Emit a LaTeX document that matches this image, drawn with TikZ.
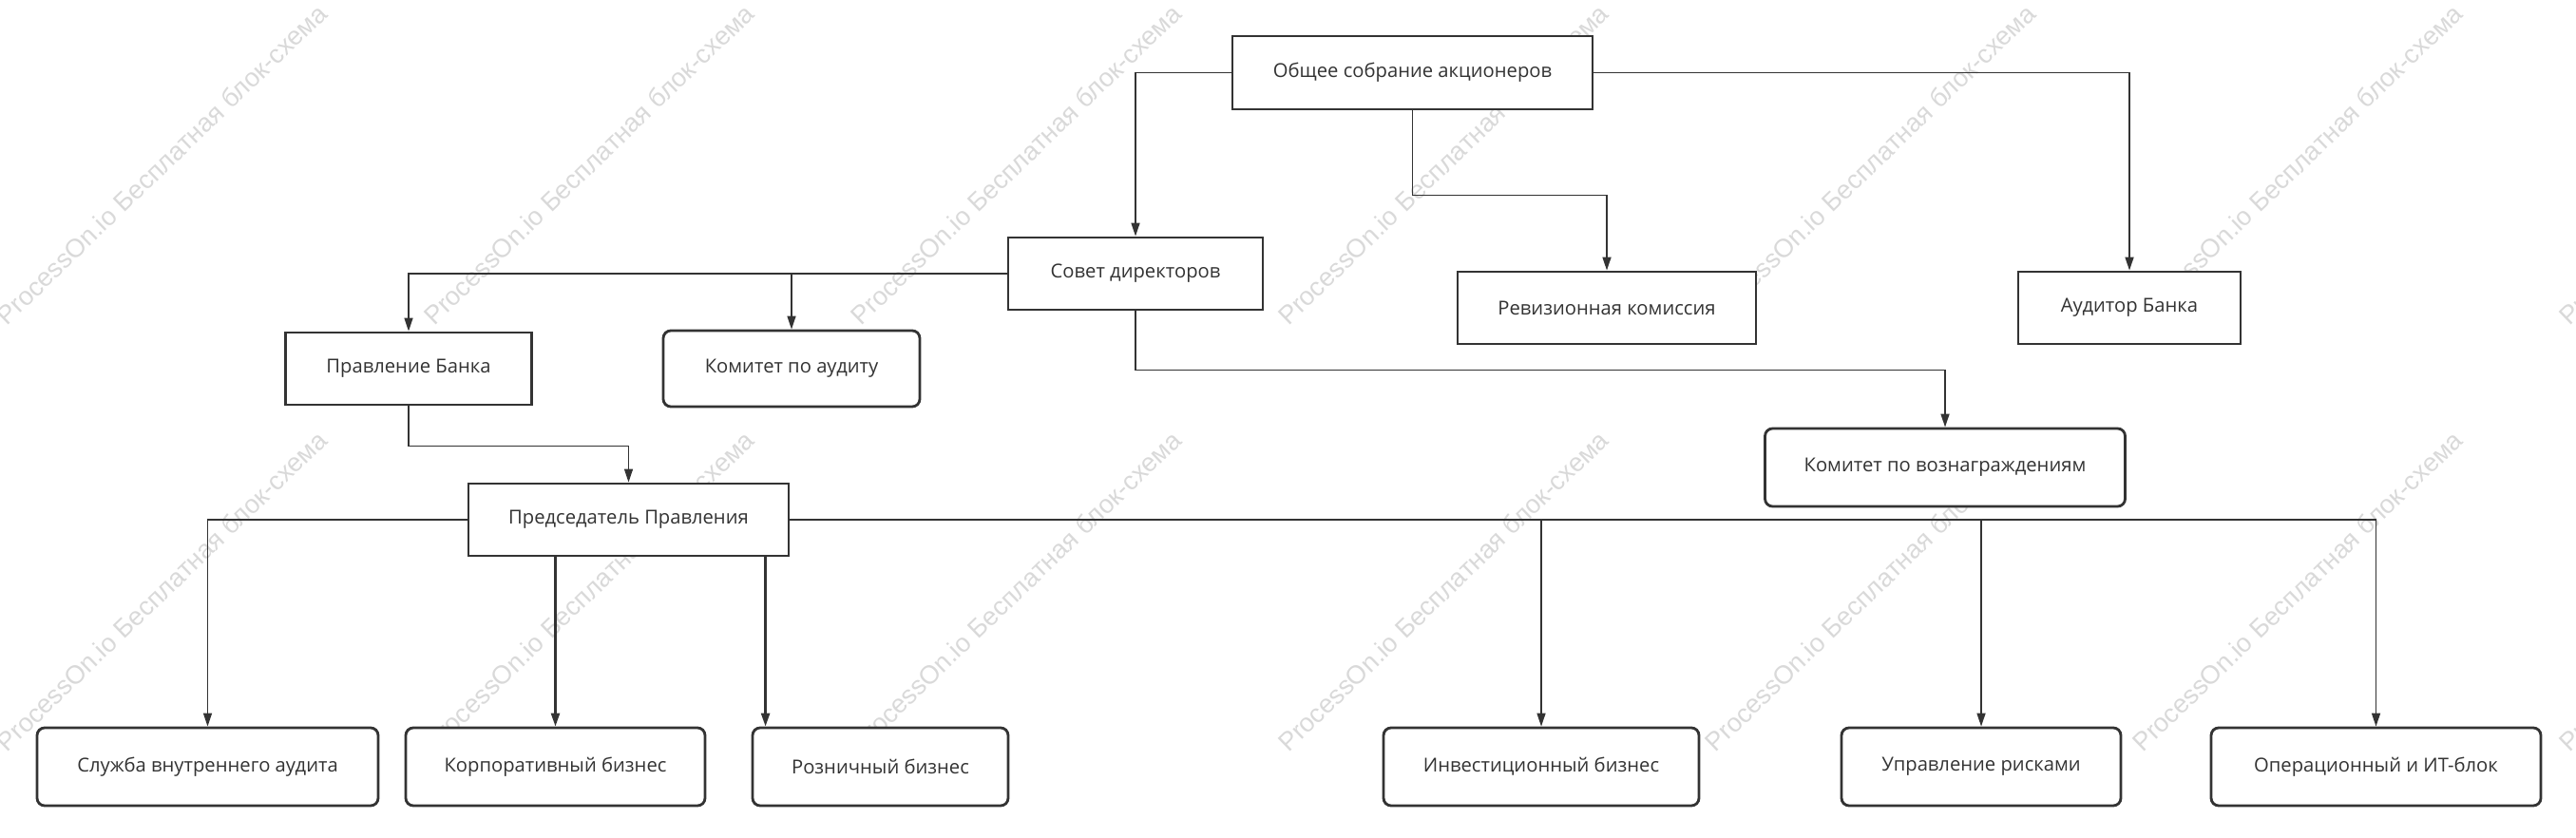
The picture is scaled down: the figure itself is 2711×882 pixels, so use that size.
\documentclass[tikz,border=0pt]{standalone}
\usepackage{fontspec}
\setmainfont{Open Sans}
\newfontfamily\wmfont{Liberation Sans}
\usepackage{xcolor}
\usepackage{tikz}
\usetikzlibrary{arrows.meta}
\definecolor{linegray}{HTML}{333333}

\begin{document}
\begin{tikzpicture}[x=0.2mm, y=-0.2mm, >={Triangle[length=2.8mm, width=1.8mm]},
    box/.style={draw=linegray, fill=white, line width=1.6pt, rectangle, minimum height=15.2mm, text centered, text=linegray, font=\fontsize{11.5}{14}\selectfont},
    rbox/.style={box, rounded corners=1.6mm, minimum height=16.4mm},
    wmark/.style={rotate=44, text=black!15, font=\wmfont\fontsize{15.5}{18}\selectfont},
    conn/.style={->, draw=linegray, line width=0.9pt}]

    \useasboundingbox (0,0) rectangle (2711,882);

    % Watermark
    \foreach \i in {0,...,6}
        \foreach \j in {0,1}
            \node (wm\i\j) [wmark] at ({170+449.5*\i}, {173+449*\j}) {ProcessOn.io Бесплатная блок-схема};

    % Define nodes
    \node (gsm) [box, minimum width=75.8mm, minimum height=15.4mm] at (1486.5, 76.5) {Общее собрание акционеров};
    \node (sovet) [box, minimum width=53.6mm] at (1195, 288) {Совет директоров};
    \node (rev) [box, minimum width=62.8mm] at (1691, 324) {Ревизионная комиссия};
    \node (aud) [box, minimum width=46.8mm] at (2241, 324) {Аудитор Банка};
    \node (pravl) [box, minimum width=51.8mm] at (430, 388) {Правление Банка};
    \node (komaud) [rbox, minimum width=54mm, minimum height=16mm] at (833, 388) {Комитет по аудиту};
    \node (komvoz) [rbox, minimum width=75.8mm] at (2047, 492) {Комитет по вознаграждениям};
    \node (pred) [box, minimum width=67.4mm] at (661.5, 547) {Председатель Правления};

    \node (sluzh) [rbox, minimum width=71.8mm] at (218.5, 807) {Служба внутреннего аудита};
    \node (korp) [rbox, minimum width=63mm] at (584.5, 807) {Корпоративный бизнес};
    \node (rozn) [rbox, minimum width=53.8mm] at (926.5, 807) {Розничный бизнес};
    \node (invest) [rbox, minimum width=66.4mm] at (1622, 807) {Инвестиционный бизнес};
    \node (risk) [rbox, minimum width=58.8mm] at (2085, 807) {Управление рисками};
    \node (oper) [rbox, minimum width=69.4mm] at (2500.5, 807) {Операционный и ИТ-блок};

    % Define connections
    \draw[conn] (gsm.west) -| (sovet.north);
    \draw[conn] (gsm.south) -- ++(0,89) -| (rev.north);
    \draw[conn] (gsm.east) -| (aud.north);

    \draw[conn] (sovet.west) -| (pravl.north);
    \draw[conn] (sovet.west) -| (komaud.north);
    \draw[conn] (sovet.south) -- ++(0,62) -| (komvoz.north);

    \draw[conn] (pravl.south) -- ++(0,42) -| (pred.north);

    \draw[conn] (pred.west) -| (sluzh.north);
    \draw[conn, line width=1.4pt] (korp.north |- pred.south) -- (korp.north);
    \coordinate (roznin) at ([xshift=3mm]rozn.north west);
    \draw[conn, line width=1.4pt] (roznin |- pred.south) -- (roznin);
    \draw[conn] (pred.east) -| (invest.north);
    \draw[conn] (pred.east) -| (risk.north);
    \draw[conn] (pred.east) -| (oper.north);

\end{tikzpicture}
\end{document}
